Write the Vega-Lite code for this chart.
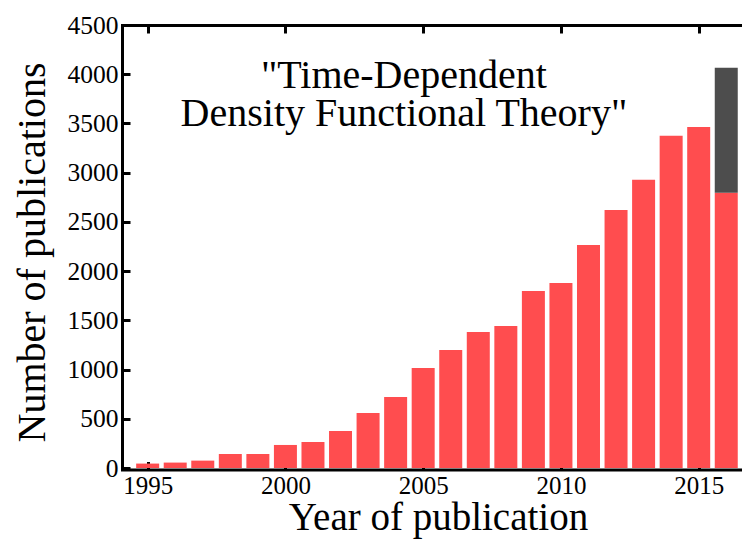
{
  "$schema": "https://vega.github.io/schema/vega-lite/v6.json",
  "width": 620,
  "height": 443,
  "autosize": "none",
  "padding": {"left": 122, "top": 25, "right": 0, "bottom": 72},
  "background": "white",
  "config": {
    "view": {"stroke": null},
    "font": "Liberation Serif",
    "axis": {
      "labelFont": "Liberation Serif",
      "titleFont": "Liberation Serif",
      "labelColor": "black",
      "titleColor": "black",
      "domainColor": "black",
      "tickColor": "black",
      "grid": false,
      "titleFontWeight": "normal"
    }
  },
  "datasets": {
    "pubs": [
      {"year": 1995, "count": 45, "part": "main"},
      {"year": 1996, "count": 55, "part": "main"},
      {"year": 1997, "count": 75, "part": "main"},
      {"year": 1998, "count": 142, "part": "main"},
      {"year": 1999, "count": 142, "part": "main"},
      {"year": 2000, "count": 234, "part": "main"},
      {"year": 2001, "count": 264, "part": "main"},
      {"year": 2002, "count": 376, "part": "main"},
      {"year": 2003, "count": 559, "part": "main"},
      {"year": 2004, "count": 721, "part": "main"},
      {"year": 2005, "count": 1016, "part": "main"},
      {"year": 2006, "count": 1199, "part": "main"},
      {"year": 2007, "count": 1382, "part": "main"},
      {"year": 2008, "count": 1443, "part": "main"},
      {"year": 2009, "count": 1799, "part": "main"},
      {"year": 2010, "count": 1880, "part": "main"},
      {"year": 2011, "count": 2266, "part": "main"},
      {"year": 2012, "count": 2622, "part": "main"},
      {"year": 2013, "count": 2927, "part": "main"},
      {"year": 2014, "count": 3374, "part": "main"},
      {"year": 2015, "count": 3465, "part": "main"},
      {"year": 2016, "count": 2795, "part": "main"},
      {"year": 2016, "count": 1270, "part": "extra"}
    ]
  },
  "resolve": {"axis": {"x": "independent", "y": "independent"}},
  "layer": [
    {
      "data": {"name": "pubs"},
      "mark": {"type": "bar", "width": 23},
      "encoding": {
        "x": {
          "field": "year",
          "type": "quantitative",
          "scale": {"domain": [1994.25, 2016.39], "nice": false, "zero": false},
          "axis": {
            "orient": "bottom",
            "values": [1995, 2000, 2005, 2010, 2015],
            "format": "d",
            "offset": 1.5,
            "domainWidth": 3,
            "domainCap": "square",
            "tickSize": -8,
            "tickWidth": 3,
            "labelFont": "Liberation Serif",
            "labelFontSize": 25,
            "labelPadding": 12,
            "title": "Year of publication",
            "titleFont": "Liberation Serif",
            "titleFontSize": 39,
            "titlePadding": 0,
            "titleX": 316
          }
        },
        "y": {
          "field": "count",
          "type": "quantitative",
          "stack": "zero",
          "scale": {"domain": [0, 4500], "nice": false},
          "axis": {
            "values": [0, 500, 1000, 1500, 2000, 2500, 3000, 3500, 4000, 4500],
            "format": "d",
            "domainWidth": 3,
            "domainCap": "square",
            "tickSize": -8,
            "tickWidth": 3,
            "labelFont": "Liberation Serif",
            "labelFontSize": 25.5,
            "labelPadding": 12,
            "title": "Number of publications",
            "titleFont": "Liberation Serif",
            "titleFontSize": 40,
            "titlePadding": 15,
            "titleY": 227
          }
        },
        "color": {
          "field": "part",
          "type": "nominal",
          "scale": {"domain": ["main", "extra"], "range": ["#ff4d4f", "#4d4d4d"]},
          "legend": null
        },
        "order": {"field": "part", "sort": "descending"}
      }
    },
    {
      "data": {"values": [{"label": "title"}]},
      "mark": {"type": "text", "fontSize": 40, "align": "center", "baseline": "alphabetic", "lineHeight": 38, "color": "black", "font": "Liberation Serif"},
      "encoding": {
        "x": {
          "datum": 2004.3,
          "type": "quantitative",
          "axis": {
            "orient": "top",
            "values": [1995, 2000, 2005, 2010, 2015],
            "labels": false,
            "title": null,
            "domainWidth": 3,
            "domainCap": "square",
            "tickSize": -8,
            "tickWidth": 3
          }
        },
        "y": {"datum": 3860, "type": "quantitative", "axis": null},
        "text": {"value": ["\"Time-Dependent", "Density Functional Theory\""]}
      }
    }
  ]
}
